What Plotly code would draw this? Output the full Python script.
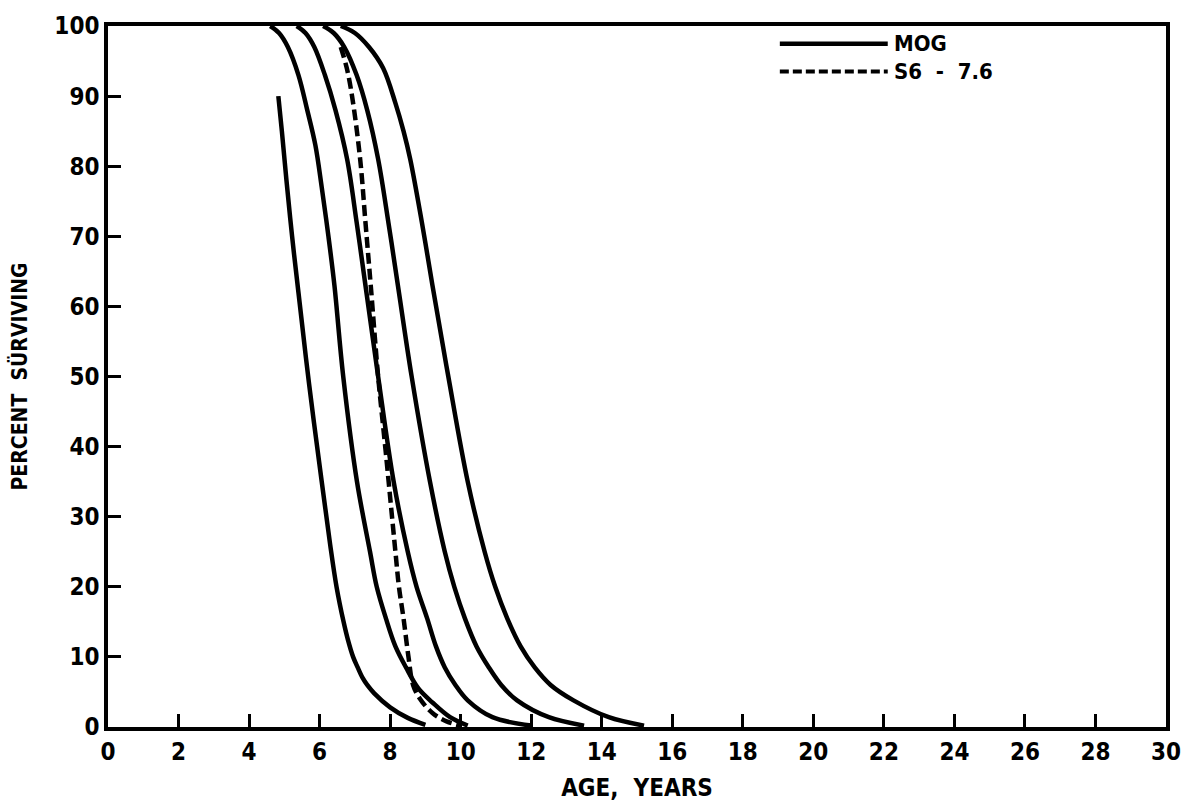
import plotly.graph_objects as go

# Age (years) / percent surviving
mog_a_x = [4.83, 4.93, 5.06, 5.22, 5.40, 5.70, 6.06, 6.30, 6.48, 6.68, 6.80, 6.95, 7.08, 7.22, 7.35, 7.55, 8.0, 8.5, 9.0]
mog_a_y = [90, 85, 78, 70, 62, 49, 35, 26, 20, 15, 12.5, 10, 8.5, 7, 6, 4.8, 2.8, 1.3, 0.3]

mog_b_x = [4.6, 4.85, 5.1, 5.4, 5.65, 5.88, 6.06, 6.25, 6.42, 6.67, 7.06, 7.43, 7.62, 7.88, 8.15, 8.45, 8.8, 9.2, 9.7, 10.2]
mog_b_y = [100, 99, 97, 93, 88, 83, 77, 70, 63, 50, 35, 25, 20, 15.5, 11.5, 8.5, 5.5, 3.5, 1.4, 0.2]

mog_c_x = [5.35, 5.6, 5.85, 6.15, 6.45, 6.78, 7.05, 7.3, 7.66, 8.1, 8.5, 8.75, 9.05, 9.3, 9.55, 9.85, 10.2, 10.9, 12.0]
mog_c_y = [100, 99, 97, 93, 88, 81, 72, 63, 50, 35, 25, 20, 15.5, 11.5, 8.5, 6, 3.8, 1.4, 0.2]

mog_d_x = [6.1, 6.4, 6.7, 7.05, 7.35, 7.66, 7.95, 8.22, 8.61, 9.13, 9.55, 9.82, 10.12, 10.45, 10.8, 11.15, 11.6, 12.5, 13.5]
mog_d_y = [100, 99, 97, 93, 88, 81, 72, 63, 50, 35, 25, 20, 15.5, 11.5, 8.5, 6, 3.8, 1.4, 0.2]

mog_e_x = [6.6, 7.0, 7.4, 7.8, 8.15, 8.38, 8.57, 8.9, 9.2, 9.65, 10.2, 10.68, 10.98, 11.32, 11.7, 12.1, 12.55, 13.2, 14.2, 15.2]
mog_e_y = [100, 99, 97, 94, 89, 85, 81, 72, 63, 50, 35, 25, 20, 15.5, 11.5, 8.5, 6, 3.8, 1.4, 0.2]

s6_x = [6.6, 6.77, 6.92, 7.15, 7.3, 7.45, 7.66, 7.88, 8.15, 8.25, 8.38, 8.52, 8.65, 8.85, 9.2, 9.6, 10.0]
s6_y = [97, 94, 90, 81, 72, 63, 50, 39, 25, 20, 15.5, 10, 6, 4, 2, 0.8, 0.2]

x_ticks = list(range(0, 31, 2))
y_ticks = list(range(0, 101, 10))

FONT = "Liberation Sans Narrow, DejaVu Sans Condensed, Arial Narrow, sans-serif"

fig = go.Figure()
for xs, ys in [(mog_a_x, mog_a_y), (mog_b_x, mog_b_y), (mog_c_x, mog_c_y),
               (mog_d_x, mog_d_y), (mog_e_x, mog_e_y)]:
    fig.add_trace(go.Scatter(x=xs, y=ys, mode="lines", showlegend=False,
                             line=dict(color="black", width=4.5, shape="spline", smoothing=1.0)))
fig.add_trace(go.Scatter(x=s6_x, y=s6_y, mode="lines", showlegend=False,
                         line=dict(color="black", width=4.5, dash="11px,5px", shape="spline", smoothing=1.0)))

# Legend drawn to match the long line samples of the original
fig.add_shape(type="line", xref="paper", yref="paper", x0=0.635, x1=0.737, y0=0.9746, y1=0.9746,
              line=dict(color="black", width=4.5))
fig.add_shape(type="line", xref="paper", yref="paper", x0=0.635, x1=0.737, y0=0.935, y1=0.935,
              line=dict(color="black", width=4, dash="9px,4px"))
fig.add_annotation(xref="paper", yref="paper", x=0.741, y=0.9746, text="MOG", showarrow=False,
                   xanchor="left", yanchor="middle", font=dict(family=FONT, size=22, color="black", weight="bold"))
fig.add_annotation(xref="paper", yref="paper", x=0.741, y=0.935, text="S6  -  7.6", showarrow=False,
                   xanchor="left", yanchor="middle", font=dict(family=FONT, size=22, color="black", weight="bold"))

axis_common = dict(showgrid=False, zeroline=False, showline=True, linecolor="black", linewidth=3.5,
                   mirror=True, ticks="inside", ticklen=13, tickwidth=3, tickcolor="black",
                   tickfont=dict(family=FONT, size=24, color="black", weight="bold"))

fig.update_xaxes(range=[0, 30], tickvals=x_ticks, ticktext=[str(v) for v in x_ticks],
                 title=dict(text="AGE,  YEARS", font=dict(family=FONT, size=24, color="black", weight="bold"),
                            standoff=16),
                 **axis_common)
fig.update_yaxes(range=[0, 100], tickvals=y_ticks, ticktext=[str(v) for v in y_ticks],
                 title=dict(text="PERCENT  SÜRVIVING", font=dict(family=FONT, size=21, color="black", weight="bold"),
                            standoff=22),
                 **axis_common)

fig.update_layout(width=1194, height=810, plot_bgcolor="white", paper_bgcolor="white",
                  margin=dict(l=108, r=28, t=18, b=83), showlegend=False)

fig.write_html("out.html")
